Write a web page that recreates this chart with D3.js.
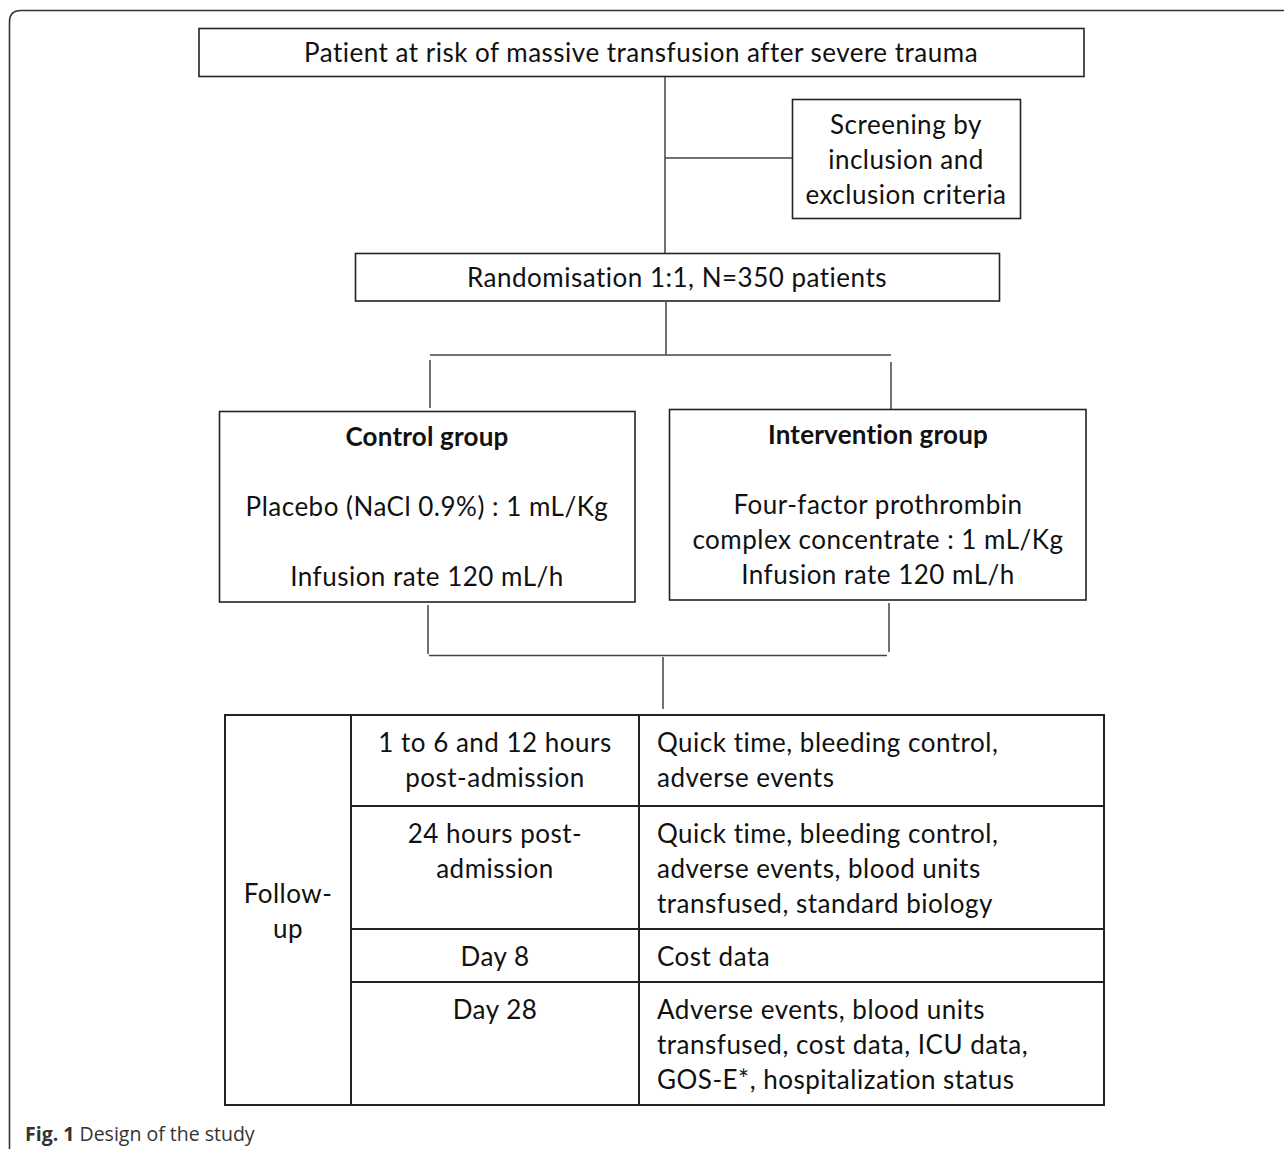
<!DOCTYPE html>
<html>
<head>
<meta charset="utf-8">
<script src="https://cdn.jsdelivr.net/npm/d3@7"></script>
<style>
  body { margin: 0; background: #fff; }
  svg { display: block; }
</style>
</head>
<body>
<div id="wrapper"></div>
<script>
// 1. Content
const topText = ["Patient at risk of massive transfusion after severe trauma"]
const screeningText = ["Screening by", "inclusion and", "exclusion criteria"]
const randomText = ["Randomisation 1:1, N=350 patients"]
const controlTitle = "Control group"
const controlLines = ["Placebo (NaCl 0.9%) : 1 mL/Kg", "", "Infusion rate 120 mL/h"]
const interventionTitle = "Intervention group"
const interventionLines = ["Four-factor prothrombin", "complex concentrate : 1 mL/Kg", "Infusion rate 120 mL/h"]
const followLabel = ["Follow-", "up"]
const timePoints = [
  ["1 to 6 and 12 hours", "post-admission"],
  ["24 hours post-", "admission"],
  ["Day 8"],
  ["Day 28"]
]
const assessments = [
  ["Quick time, bleeding control,", "adverse events"],
  ["Quick time, bleeding control,", "adverse events, blood units", "transfused, standard biology"],
  ["Cost data"],
  ["Adverse events, blood units", "transfused, cost data, ICU data,", "GOS-E*, hospitalization status"]
]
const captionBold = "Fig. 1"
const captionText = " Design of the study"

// 2. Dimensions
const dimensions = { width: 1284, height: 1149 }
const x = d3.scaleLinear().domain([0, 1284]).range([0, dimensions.width])
const y = d3.scaleLinear().domain([0, 1149]).range([0, dimensions.height])

const font = "Lato, 'Liberation Sans', sans-serif"
const fontSize = 26
const lineGap = 35
const stroke = "#222"

// 3. Canvas
const svg = d3.select("#wrapper")
  .append("svg")
    .attr("width", dimensions.width)
    .attr("height", dimensions.height)

// outer frame (top + left with rounded corner)
svg.append("path")
  .attr("d", `M${x(9.5)},${y(1149)} L${x(9.5)},${y(22)} Q${x(9.5)},${y(10.5)} ${x(21)},${y(10.5)} L${x(1284)},${y(10.5)}`)
  .attr("fill", "none")
  .attr("stroke", "#333")
  .attr("stroke-width", 1.6)

function box(x0, y0, x1, y1, w = 1.6) {
  svg.append("rect")
    .attr("x", x(x0)).attr("y", y(y0))
    .attr("width", x(x1) - x(x0)).attr("height", y(y1) - y(y0))
    .attr("fill", "none")
    .attr("stroke", stroke)
    .attr("stroke-width", w)
}

function line(x0, y0, x1, y1, w = 1.5, color = "#444") {
  svg.append("line")
    .attr("x1", x(x0)).attr("y1", y(y0))
    .attr("x2", x(x1)).attr("y2", y(y1))
    .attr("stroke", color)
    .attr("stroke-width", w)
}

function lines(texts, cx, firstY, anchor = "middle", weight = "normal") {
  svg.append("g").selectAll("text")
    .data(texts)
    .join("text")
      .attr("x", x(cx))
      .attr("y", (d, i) => y(firstY + i * lineGap))
      .attr("dy", "0.35em")
      .attr("text-anchor", anchor)
      .attr("font-family", font)
      .attr("font-size", fontSize)
      .attr("font-weight", weight)
      .attr("letter-spacing", weight === "bold" ? 0.2 : 0.5)
      .attr("fill", "#111")
      .text(d => d)
}

// 4. Flow boxes
box(199, 28.5, 1084, 76.5)
lines(topText, 641, 53)

line(665, 77, 665, 253)
line(665, 158, 792, 158)
box(792.5, 99.5, 1020.5, 218.5)
lines(screeningText, 906, 125)

box(355.5, 253.5, 999.5, 301)
lines(randomText, 677, 278)

line(666, 302, 666, 355)
line(430, 355, 891, 355)
line(430, 360, 430, 408)
line(891, 362, 891, 410)

box(219.5, 411.5, 635, 602)
lines([controlTitle], 427, 437, "middle", "bold")
lines(controlLines, 427, 507)

box(669.5, 409.5, 1086, 600)
lines([interventionTitle], 878, 435, "middle", "bold")
lines(interventionLines, 878, 505)

line(428, 605, 428, 654)
line(889, 603, 889, 652)
line(429, 655.5, 887, 655.5)
line(663, 657, 663, 709)

// 5. Follow-up table
const colEdges = [225, 351, 639, 1104]
const rowEdges = [715, 806, 929, 982, 1105]

box(colEdges[0], rowEdges[0], colEdges[3], rowEdges[4], 2)
colEdges.slice(1, -1).forEach(c => line(c, rowEdges[0], c, rowEdges[4], 2, stroke))
rowEdges.slice(1, -1).forEach(r => line(colEdges[1], r, colEdges[3], r, 2, stroke))

lines(followLabel, 288, 894)
timePoints.forEach((t, i) => lines(t, 495, rowEdges[i] + 28))
assessments.forEach((a, i) => lines(a, 657, rowEdges[i] + 28, "start"))

// 6. Caption
const cap = svg.append("text")
  .attr("x", x(25))
  .attr("y", y(1141))
  .attr("font-family", "'Open Sans', sans-serif")
  .attr("font-size", 19.5)
  .attr("fill", "#333")
cap.append("tspan").attr("font-weight", "bold").text(captionBold)
cap.append("tspan").text(captionText)
</script>
</body>
</html>
